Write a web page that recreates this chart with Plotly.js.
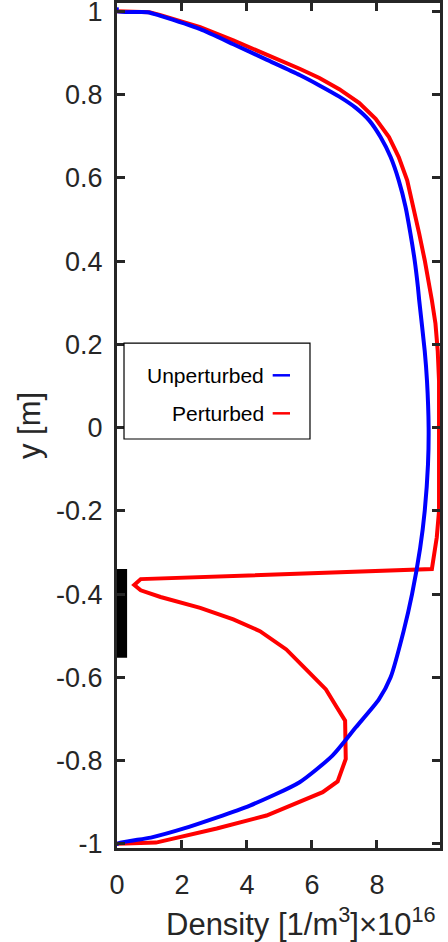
<!DOCTYPE html>
<html>
<head>
<meta charset="utf-8">
<script src="https://cdn.plot.ly/plotly-3.0.1.min.js"></script>
<style>
  html, body { margin: 0; padding: 0; background: #ffffff; }
  #chart { width: 448px; height: 942px; }
</style>
</head>
<body>
<div id="chart"></div>
<script>
// ---- data ----
const unperturbedX = [0, 0, 0.94, 1.34, 2.56, 3.58, 4.60, 5.62, 6.23, 6.84, 7.35, 7.76, 8.11, 8.42, 8.67, 8.88, 9.03, 9.16, 9.26, 9.30, 9.47, 9.54, 9.59, 9.57, 9.47, 9.33, 9.08, 8.82, 8.42, 8.06, 7.35, 6.63, 5.62, 4.09, 2.06, 1.04, 0, 0];
const unperturbedY = [1.01, 1.0, 0.998, 0.989, 0.957, 0.921, 0.884, 0.847, 0.822, 0.795, 0.768, 0.738, 0.698, 0.650, 0.594, 0.530, 0.466, 0.402, 0.338, 0.306, 0.184, 0.112, 0.0, -0.089, -0.2, -0.289, -0.4, -0.489, -0.6, -0.653, -0.72, -0.788, -0.852, -0.908, -0.963, -0.985, -1.0, -1.005];

const perturbedX = [0, 1.0, 1.34, 2.56, 3.58, 4.60, 5.62, 6.23, 6.84, 7.45, 7.96, 8.37, 8.67, 8.93, 9.13, 9.30, 9.47, 9.59, 9.69, 9.80, 9.87, 9.91, 9.92, 9.91, 9.84, 9.69, 0.73, 0.53, 0.73, 1.34, 2.56, 3.58, 4.40, 5.21, 5.82, 6.43, 6.74, 7.02, 7.04, 6.79, 6.33, 4.60, 3.07, 1.95, 1.2, 0];
const perturbedY = [1.0, 0.998, 0.991, 0.962, 0.930, 0.897, 0.862, 0.840, 0.813, 0.780, 0.742, 0.698, 0.650, 0.594, 0.530, 0.466, 0.402, 0.354, 0.306, 0.25, 0.184, 0.112, 0.0, -0.2, -0.264, -0.34, -0.364, -0.378, -0.391, -0.407, -0.433, -0.461, -0.489, -0.533, -0.581, -0.629, -0.669, -0.704, -0.796, -0.850, -0.876, -0.932, -0.963, -0.983, -0.997, -1.0];

const probeX = [0.08, 0.08];
const probeY = [-0.34, -0.553];

const legendLabels = ["Unperturbed", "Perturbed"];
const xTickVals = [0, 2, 4, 6, 8];
const xTickText = ["0", "2", "4", "6", "8"];
const yTickVals = [-1, -0.8, -0.6, -0.4, -0.2, 0, 0.2, 0.4, 0.6, 0.8, 1];
const yTickText = ["-1", "-0.8", "-0.6", "-0.4", "-0.2", "0", "0.2", "0.4", "0.6", "0.8", "1"];
const xTitle = "Density [1/m<sup>3</sup>]×10<sup>16</sup>";
const yTitle = "y [m]";

// ---- chart ----
const axisColor = "#262626";
const fontFamily = "'Liberation Sans', Arial, Helvetica, sans-serif";
const BLUE = "#0000ff", RED = "#ff0000";

const traces = [
  { x: perturbedX, y: perturbedY, type: "scatter", mode: "lines", name: legendLabels[1],
    line: { color: RED, width: 4 }, showlegend: false, hoverinfo: "x+y" },
  { x: unperturbedX, y: unperturbedY, type: "scatter", mode: "lines", name: legendLabels[0],
    line: { color: BLUE, width: 4, shape: "spline", smoothing: 0.6 }, showlegend: false, hoverinfo: "x+y" },
  { x: probeX, y: probeY, type: "scatter", mode: "lines", name: "probe",
    line: { color: "#000000", width: 15 }, showlegend: false, hoverinfo: "skip", cliponaxis: false }
];

// legend box geometry in paper coordinates
const lgX0 = 0.0217, lgX1 = 0.5975, lgY0 = 0.484, lgY1 = 0.5976;
const lgLineX0 = 0.482, lgLineX1 = 0.5356, lgTextX = 0.46;
const lgRowY = [0.5594, 0.5144];
const lgColors = [BLUE, RED];

const shapes = [
  { type: "rect", xref: "paper", yref: "paper", x0: lgX0, x1: lgX1, y0: lgY0, y1: lgY1,
    line: { color: "#000000", width: 1.2 }, fillcolor: "#ffffff", layer: "above" }
];
const annotations = [];
legendLabels.forEach((lab, i) => {
  shapes.push({ type: "line", xref: "paper", yref: "paper", x0: lgLineX0, x1: lgLineX1,
    y0: lgRowY[i], y1: lgRowY[i], line: { color: lgColors[i], width: 2.5 }, layer: "above" });
  annotations.push({ xref: "paper", yref: "paper", x: lgTextX, y: lgRowY[i], xanchor: "right", yanchor: "middle",
    text: lab, showarrow: false, font: { family: fontFamily, size: 21, color: "#000000" } });
});
// x-axis title (with MATLAB-style exponent) placed as in the reference
annotations.push({ xref: "paper", yref: "paper", x: 0.995, y: -0.087, xanchor: "right", yanchor: "middle",
  text: xTitle, showarrow: false, font: { family: fontFamily, size: 31, color: axisColor } });

const layout = {
  width: 448, height: 942,
  margin: { l: 117, r: 8, t: 3, b: 94, pad: 0 },
  paper_bgcolor: "#ffffff", plot_bgcolor: "#ffffff",
  font: { family: fontFamily, color: axisColor, size: 27 },
  showlegend: false,
  xaxis: {
    range: [0, 9.94], tickvals: xTickVals, ticktext: xTickText,
    ticks: "inside", ticklen: 8, tickwidth: 3, tickcolor: axisColor,
    showline: true, linewidth: 3, linecolor: axisColor, mirror: "ticks",
    showgrid: false, zeroline: false,
    tickfont: { family: fontFamily, size: 27, color: axisColor },
    ticklabelstandoff: 11, ticklabeloverflow: "allow",
    automargin: false
  },
  yaxis: {
    range: [-1.01, 1.02], tickvals: yTickVals, ticktext: yTickText,
    ticks: "inside", ticklen: 8, tickwidth: 3, tickcolor: axisColor,
    showline: true, linewidth: 3, linecolor: axisColor, mirror: "ticks",
    showgrid: false, zeroline: false,
    tickfont: { family: fontFamily, size: 27, color: axisColor },
    ticklabelstandoff: 6, ticklabeloverflow: "allow",
    title: { text: yTitle, font: { family: fontFamily, size: 31, color: axisColor }, standoff: 7 },
    automargin: false
  },
  shapes: shapes,
  annotations: annotations
};

Plotly.newPlot("chart", traces, layout, { displayModeBar: false, staticPlot: true });
</script>
</body>
</html>
